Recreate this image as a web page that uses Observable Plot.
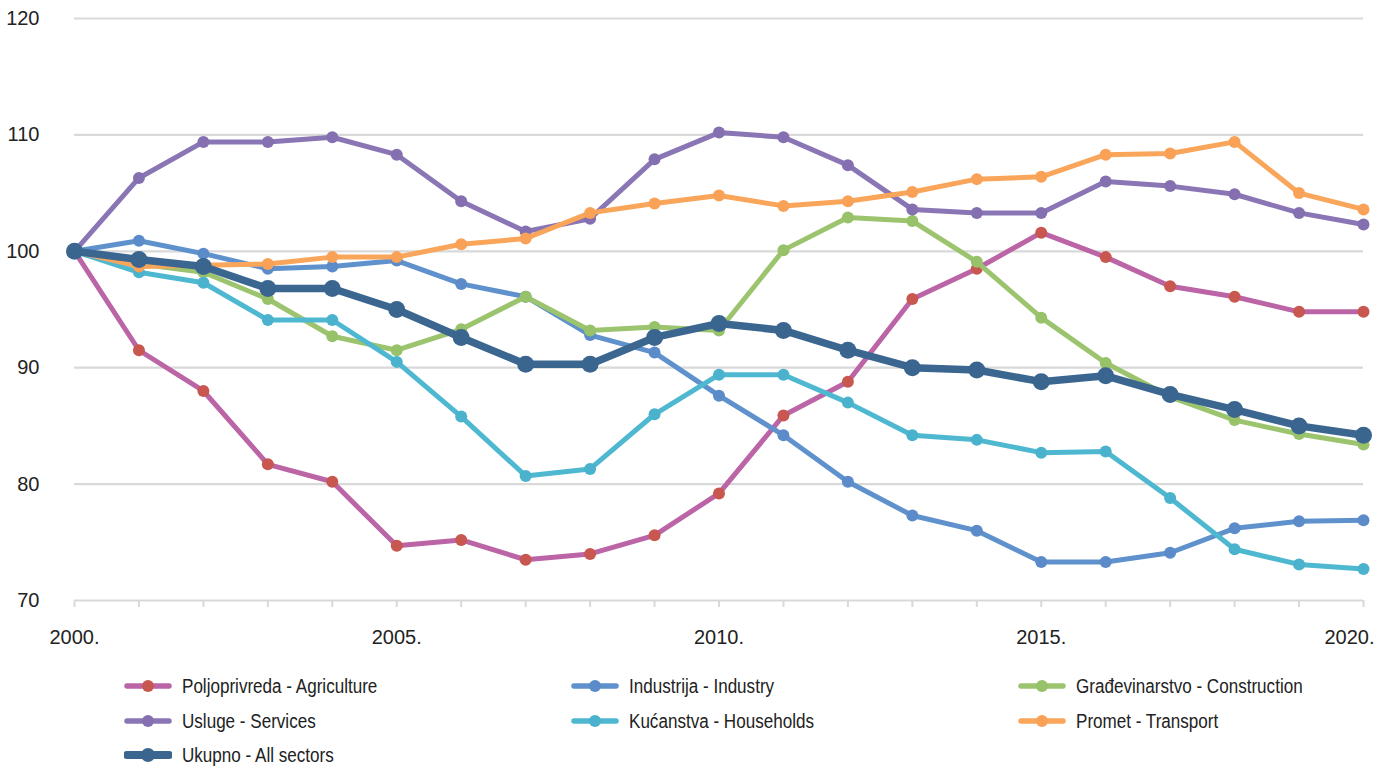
<!DOCTYPE html>
<html>
<head>
<meta charset="utf-8">
<script src="https://cdn.jsdelivr.net/npm/d3@7"></script>
<script src="https://cdn.jsdelivr.net/npm/@observablehq/plot@0.6"></script>
<style>
  html, body { margin: 0; padding: 0; background: #fff; }
  body { width: 1382px; height: 767px; overflow: hidden; font-family: "Liberation Sans Narrow", "Liberation Sans", sans-serif; font-stretch: condensed; }
  #chart svg { display: block; }
  #chart svg text { font-family: "Liberation Sans Narrow", "Liberation Sans", sans-serif; font-stretch: condensed; }
  #legend { position: relative; height: 107px; }
  .item { position: absolute; display: flex; align-items: center; font-size: 19.5px; color: #222; white-space: nowrap; }
  .item svg { margin-right: 10px; }
  .item span { display: inline-block; transform: scaleX(0.875); transform-origin: 0 50%; }
</style>
</head>
<body>
<div id="chart"></div>
<div id="legend"></div>
<script>
const years = [2000, 2001, 2002, 2003, 2004, 2005, 2006, 2007, 2008, 2009, 2010,
               2011, 2012, 2013, 2014, 2015, 2016, 2017, 2018, 2019, 2020];

const agriculture  = [100, 91.5, 88.0, 81.7, 80.2, 74.7, 75.2, 73.5, 74.0, 75.6, 79.2, 85.9, 88.8, 95.9, 98.5, 101.6, 99.5, 97.0, 96.1, 94.8, 94.8];
const industry     = [100, 100.9, 99.8, 98.5, 98.7, 99.2, 97.2, 96.1, 92.8, 91.3, 87.6, 84.2, 80.2, 77.3, 76.0, 73.3, 73.3, 74.1, 76.2, 76.8, 76.9];
const construction = [100, 98.9, 98.2, 95.9, 92.7, 91.5, 93.3, 96.1, 93.2, 93.5, 93.2, 100.1, 102.9, 102.6, 99.1, 94.3, 90.4, 87.5, 85.5, 84.3, 83.4];
const services     = [100, 106.3, 109.4, 109.4, 109.8, 108.3, 104.3, 101.7, 102.8, 107.9, 110.2, 109.8, 107.4, 103.6, 103.3, 103.3, 106.0, 105.6, 104.9, 103.3, 102.3];
const households   = [100, 98.2, 97.3, 94.1, 94.1, 90.5, 85.8, 80.7, 81.3, 86.0, 89.4, 89.4, 87.0, 84.2, 83.8, 82.7, 82.8, 78.8, 74.4, 73.1, 72.7];
const transport    = [100, 98.7, 98.8, 98.9, 99.5, 99.5, 100.6, 101.1, 103.3, 104.1, 104.8, 103.9, 104.3, 105.1, 106.2, 106.4, 108.3, 108.4, 109.4, 105.0, 103.6];
const total        = [100, 99.3, 98.7, 96.8, 96.8, 95.0, 92.6, 90.3, 90.3, 92.6, 93.8, 93.2, 91.5, 90.0, 89.8, 88.8, 89.3, 87.7, 86.4, 85.0, 84.2];

const yTicks = [70, 80, 90, 100, 110, 120];
const xLabelTicks = [2000, 2005, 2010, 2015];
const xLastTick = [2020];

const series = [
  {name: "Poljoprivreda - Agriculture", values: agriculture, line: "#bb64a6", dot: "#c8574f", w: 5, r: 6},
  {name: "Industrija - Industry", values: industry, line: "#5f92cc", dot: "#5b8bc8", w: 5, r: 6},
  {name: "Građevinarstvo - Construction", values: construction, line: "#9cc46f", dot: "#98c26a", w: 5, r: 6},
  {name: "Usluge - Services", values: services, line: "#8a76b4", dot: "#8470b0", w: 5, r: 6},
  {name: "Kućanstva - Households", values: households, line: "#4fb8d1", dot: "#4ab2cc", w: 5, r: 6},
  {name: "Promet - Transport", values: transport, line: "#f9a55a", dot: "#f9a257", w: 5, r: 6},
  {name: "Ukupno - All sectors", values: total, line: "#3b6690", dot: "#3a658f", w: 7.5, r: 8.5}
];

const legendLayout = [
  {i: 0, col: 0, row: 0}, {i: 1, col: 1, row: 0}, {i: 2, col: 2, row: 0},
  {i: 3, col: 0, row: 1}, {i: 4, col: 1, row: 1}, {i: 5, col: 2, row: 1},
  {i: 6, col: 0, row: 2}
];

const marks = [
  Plot.gridY([80, 90, 100, 110, 120], {stroke: "#d9d9d9", strokeOpacity: 1, strokeWidth: 2.2}),
  Plot.ruleY([70], {stroke: "#d9d9d9", strokeWidth: 2.2}),
  Plot.axisX(years, {tickSize: 7, stroke: "#d9d9d9", strokeWidth: 2, tickFormat: () => "", tickPadding: 0, label: null}),
  Plot.axisX(xLabelTicks, {tickSize: 0, tickPadding: 29, tickFormat: d => d + ".", fontSize: 20, fill: "#222", label: null}),
  Plot.axisX(xLastTick, {tickSize: 0, tickPadding: 29, tickFormat: d => d + ".", fontSize: 20, fill: "#222", dx: -14, label: null}),
  Plot.axisY(yTicks, {tickSize: 0, tickPadding: 35, fontSize: 20, fill: "#222", label: null})
];

for (const s of series) {
  const data = years.map((y, k) => ({year: y, value: s.values[k]}));
  marks.push(Plot.line(data, {x: "year", y: "value", stroke: s.line, strokeWidth: s.w, strokeLinejoin: "round", strokeLinecap: "round"}));
  marks.push(Plot.dot(data, {x: "year", y: "value", fill: s.dot, r: s.r, stroke: null}));
}

const chart = Plot.plot({
  width: 1382,
  height: 660,
  marginTop: 18,
  marginBottom: 60,
  marginLeft: 74,
  marginRight: 19,
  style: {background: "#fff"},
  x: {domain: [2000, 2020], axis: null, label: null},
  y: {domain: [70, 120], axis: null, label: null},
  marks
});
document.getElementById("chart").appendChild(chart);

const legend = document.getElementById("legend");
const colX = [124, 571, 1018];
const rowY = [26, 61, 95];
for (const L of legendLayout) {
  const s = series[L.i];
  const item = document.createElement("div");
  item.className = "item";
  item.style.left = colX[L.col] + "px";
  item.style.top = (rowY[L.row] - 12) + "px";
  item.style.height = "24px";
  const lw = s.w > 6 ? 8 : 5.5;
  const rr = s.w > 6 ? 7 : 6;
  item.innerHTML = `<svg width="48" height="24"><line x1="3" x2="45" y1="12" y2="12" stroke="${s.line}" stroke-width="${lw}" stroke-linecap="round"/><circle cx="24" cy="12" r="${rr}" fill="${s.dot}"/></svg><span>${s.name}</span>`;
  legend.appendChild(item);
}
</script>
</body>
</html>
